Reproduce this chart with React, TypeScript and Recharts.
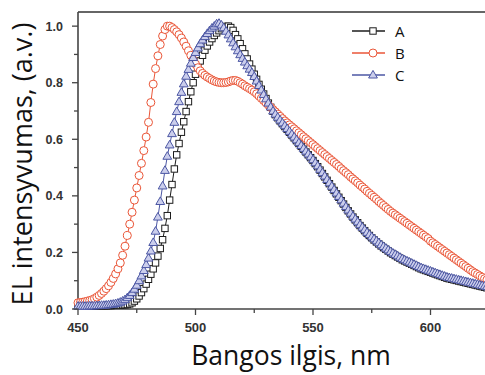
import React from 'react';
import { LineChart, Line, XAxis, YAxis, ReferenceLine, Legend } from 'recharts';

const wavelengths = [
  450, 451, 452, 453, 454, 455, 456, 457, 458, 459,
  460, 461, 462, 463, 464, 465, 466, 467, 468, 469,
  470, 471, 472, 473, 474, 475, 476, 477, 478, 479,
  480, 481, 482, 483, 484, 485, 486, 487, 488, 489,
  490, 491, 492, 493, 494, 495, 496, 497, 498, 499,
  500, 501, 502, 503, 504, 505, 506, 507, 508, 509,
  510, 511, 512, 513, 514, 515, 516, 517, 518, 519,
  520, 521, 522, 523, 524, 525, 526, 527, 528, 529,
  530, 531, 532, 533, 534, 535, 536, 537, 538, 539,
  540, 541, 542, 543, 544, 545, 546, 547, 548, 549,
  550, 551, 552, 553, 554, 555, 556, 557, 558, 559,
  560, 561, 562, 563, 564, 565, 566, 567, 568, 569,
  570, 571, 572, 573, 574, 575, 576, 577, 578, 579,
  580, 581, 582, 583, 584, 585, 586, 587, 588, 589,
  590, 591, 592, 593, 594, 595, 596, 597, 598, 599,
  600, 601, 602, 603, 604, 605, 606, 607, 608, 609,
  610, 611, 612, 613, 614, 615, 616, 617, 618, 619,
  620, 621, 622, 623, 624, 625,
];

const seriesA = [
  0.010, 0.010, 0.010, 0.010, 0.010, 0.010, 0.010, 0.010, 0.010, 0.011,
  0.011, 0.011, 0.012, 0.012, 0.012, 0.013, 0.013, 0.014, 0.014, 0.015,
  0.015, 0.016, 0.018, 0.022, 0.028, 0.036, 0.046, 0.058, 0.072, 0.088,
  0.105, 0.123, 0.142, 0.163, 0.187, 0.214, 0.245, 0.285, 0.330, 0.385,
  0.440, 0.495, 0.545, 0.585, 0.625, 0.662, 0.698, 0.733, 0.768, 0.800,
  0.830, 0.855, 0.877, 0.897, 0.915, 0.930, 0.944, 0.956, 0.967, 0.976,
  0.984, 0.991, 0.996, 0.999, 1.000, 0.995, 0.985, 0.970, 0.955, 0.938,
  0.920, 0.902, 0.884, 0.866, 0.848, 0.830, 0.812, 0.794, 0.777, 0.760,
  0.744, 0.728, 0.713, 0.699, 0.687, 0.676, 0.665, 0.655, 0.645, 0.635,
  0.625, 0.615, 0.605, 0.595, 0.585, 0.575, 0.565, 0.555, 0.545, 0.535,
  0.525, 0.514, 0.503, 0.491, 0.479, 0.467, 0.455, 0.443, 0.431, 0.419,
  0.407, 0.395, 0.383, 0.371, 0.359, 0.347, 0.336, 0.325, 0.315, 0.305,
  0.295, 0.286, 0.277, 0.268, 0.260, 0.252, 0.244, 0.237, 0.230, 0.223,
  0.217, 0.211, 0.205, 0.199, 0.194, 0.189, 0.184, 0.179, 0.174, 0.170,
  0.166, 0.162, 0.158, 0.154, 0.150, 0.146, 0.142, 0.139, 0.136, 0.133,
  0.130, 0.127, 0.124, 0.121, 0.118, 0.115, 0.112, 0.109, 0.107, 0.105,
  0.103, 0.101, 0.099, 0.097, 0.095, 0.093, 0.091, 0.089, 0.087, 0.085,
  0.083, 0.081, 0.079, 0.077, 0.075, 0.073,
];

const seriesB = [
  0.022, 0.023, 0.024, 0.026, 0.028, 0.030, 0.033, 0.037, 0.042, 0.048,
  0.055, 0.063, 0.072, 0.082, 0.094, 0.108, 0.124, 0.142, 0.163, 0.190,
  0.222, 0.260, 0.300, 0.342, 0.385, 0.428, 0.472, 0.515, 0.560, 0.608,
  0.660, 0.730, 0.795, 0.850, 0.895, 0.935, 0.965, 0.988, 1.000, 1.000,
  0.995, 0.988, 0.980, 0.970, 0.958, 0.944, 0.929, 0.913, 0.897, 0.881,
  0.866, 0.853, 0.842, 0.833, 0.826, 0.820, 0.815, 0.810, 0.806, 0.803,
  0.801, 0.800, 0.800, 0.801, 0.803, 0.806, 0.808, 0.808, 0.805, 0.800,
  0.795, 0.789, 0.784, 0.779, 0.774, 0.768, 0.761, 0.753, 0.745, 0.737,
  0.729, 0.721, 0.713, 0.705, 0.697, 0.689, 0.681, 0.673, 0.665, 0.658,
  0.651, 0.644, 0.637, 0.630, 0.623, 0.616, 0.609, 0.602, 0.595, 0.588,
  0.581, 0.574, 0.567, 0.560, 0.553, 0.546, 0.539, 0.532, 0.525, 0.518,
  0.511, 0.504, 0.496, 0.489, 0.482, 0.475, 0.467, 0.460, 0.453, 0.446,
  0.438, 0.431, 0.424, 0.416, 0.409, 0.402, 0.395, 0.388, 0.380, 0.373,
  0.366, 0.359, 0.352, 0.345, 0.339, 0.333, 0.327, 0.321, 0.315, 0.309,
  0.303, 0.297, 0.291, 0.285, 0.279, 0.273, 0.267, 0.261, 0.255, 0.249,
  0.240, 0.234, 0.228, 0.222, 0.216, 0.210, 0.204, 0.198, 0.192, 0.186,
  0.180, 0.174, 0.168, 0.162, 0.156, 0.150, 0.144, 0.138, 0.132, 0.127,
  0.122, 0.117, 0.112, 0.107, 0.103, 0.099,
];

const seriesC = [
  0.010, 0.010, 0.010, 0.010, 0.010, 0.011, 0.011, 0.011, 0.012, 0.012,
  0.013, 0.013, 0.014, 0.015, 0.016, 0.017, 0.019, 0.021, 0.024, 0.028,
  0.033, 0.040, 0.048, 0.058, 0.070, 0.084, 0.100, 0.117, 0.136, 0.157,
  0.180, 0.205, 0.235, 0.275, 0.325, 0.380, 0.435, 0.490, 0.540, 0.580,
  0.620, 0.660, 0.698, 0.733, 0.766, 0.796, 0.823, 0.847, 0.869, 0.889,
  0.907, 0.923, 0.938, 0.951, 0.963, 0.974, 0.984, 0.993, 1.000, 1.008,
  1.010, 1.004, 0.994, 0.982, 0.969, 0.955, 0.941, 0.927, 0.913, 0.899,
  0.886, 0.873, 0.860, 0.848, 0.836, 0.822, 0.806, 0.790, 0.774, 0.758,
  0.743, 0.728, 0.714, 0.700, 0.689, 0.678, 0.668, 0.658, 0.648, 0.638,
  0.628, 0.618, 0.608, 0.598, 0.588, 0.578, 0.568, 0.558, 0.548, 0.538,
  0.528, 0.517, 0.506, 0.494, 0.482, 0.470, 0.458, 0.446, 0.434, 0.422,
  0.410, 0.398, 0.386, 0.374, 0.362, 0.350, 0.339, 0.328, 0.318, 0.308,
  0.298, 0.289, 0.280, 0.271, 0.263, 0.255, 0.248, 0.241, 0.234, 0.227,
  0.221, 0.215, 0.209, 0.203, 0.198, 0.193, 0.188, 0.183, 0.178, 0.174,
  0.170, 0.166, 0.162, 0.158, 0.154, 0.150, 0.146, 0.143, 0.140, 0.137,
  0.134, 0.131, 0.128, 0.125, 0.122, 0.119, 0.116, 0.113, 0.111, 0.109,
  0.107, 0.105, 0.103, 0.101, 0.099, 0.097, 0.095, 0.093, 0.091, 0.089,
  0.087, 0.085, 0.083, 0.081, 0.079, 0.077,
];

const seriesNames = ['A', 'B', 'C'];
const xTicks = [450, 475, 500, 525, 550, 575, 600, 625];
const yTicks = [0, 0.1, 0.2, 0.3, 0.4, 0.5, 0.6, 0.7, 0.8, 0.9, 1.0];
const xLabel = 'Bangos ilgis, nm';
const yLabel = 'EL intensyvumas, (a.v.)';

const data = wavelengths.map((w, i) => ({
  w,
  A: seriesA[i],
  B: seriesB[i],
  C: seriesC[i],
}));

const STYLE: Record<string, { stroke: string; fill: string }> = {
  A: { stroke: '#1c1c1c', fill: '#ffffff' },
  B: { stroke: '#EA5638', fill: '#ffffff' },
  C: { stroke: '#4C57A4', fill: '#CBCEEC' },
};

function Marker({ kind, cx, cy }: { kind: string; cx: number; cy: number }) {
  const s = STYLE[kind];
  if (cx == null || cy == null || isNaN(cx) || isNaN(cy)) return null;
  if (kind === 'A') {
    return <rect x={cx - 3.2} y={cy - 3.2} width={6.4} height={6.4} fill={s.fill} stroke={s.stroke} strokeWidth={1} />;
  }
  if (kind === 'B') {
    return <circle cx={cx} cy={cy} r={4} fill={s.fill} stroke={s.stroke} strokeWidth={1} />;
  }
  return (
    <polygon
      points={`${cx},${cy - 4.6} ${cx + 4.4},${cy + 3} ${cx - 4.4},${cy + 3}`}
      fill={s.fill}
      stroke={s.stroke}
      strokeWidth={1}
    />
  );
}

const TICK_FONT = '"Liberation Sans", Arial, Helvetica, sans-serif';
const TITLE_FONT = '"Open Sans", "Noto Sans", sans-serif';

const XTick = (props: any) => {
  const { x, y, payload } = props;
  const major = payload.value % 50 === 0;
  return (
    <g>
      <line x1={x} y1={y} x2={x} y2={y + (major ? 6 : 4)} stroke="#444" strokeWidth={1.3} />
      {major && (
        <text x={x} y={y + 22.5} textAnchor="middle" fontFamily={TICK_FONT} fontWeight="bold" fontSize={13} fill="#333">
          {payload.value}
        </text>
      )}
    </g>
  );
};

const YTick = (props: any) => {
  const { x, y, payload } = props;
  const major = Math.round(payload.value * 10) % 2 === 0;
  return (
    <g>
      <line x1={x - (major ? 6 : 4)} y1={y} x2={x} y2={y} stroke="#444" strokeWidth={1.3} />
      {major && (
        <text x={x - 15} y={y + 4.6} textAnchor="end" fontFamily={TICK_FONT} fontWeight="bold" fontSize={12.5} fill="#333">
          {payload.value.toFixed(1)}
        </text>
      )}
    </g>
  );
};

const LegendContent = (props: any) => {
  const payload = props.payload || [];
  return (
    <svg width={90} height={70} style={{ display: 'block' }}>
      {payload.map((e: any, i: number) => {
        const key = String(e.dataKey);
        const cy = 11 + i * 22;
        return (
          <g key={key}>
            <line x1={7} y1={cy} x2={40} y2={cy} stroke={STYLE[key].stroke} strokeWidth={1.3} />
            <Marker kind={key} cx={28} cy={cy} />
            <text x={50} y={cy + 5.5} fontFamily={TITLE_FONT} fontSize={15} fill="#111">
              {e.value}
            </text>
          </g>
        );
      })}
    </svg>
  );
};

export default function App() {
  return (
    <div style={{ position: 'absolute', left: 0, top: 0, width: 485, height: 375, overflow: 'hidden', background: '#fff' }}>
      <LineChart width={513} height={375} data={data} margin={{ top: 12, right: 12, bottom: 36, left: 18 }}>
        <XAxis
          dataKey="w"
          type="number"
          domain={[450, 630]}
          ticks={xTicks}
          interval={0}
          tickSize={0}
          tickMargin={0}
          tickLine={false}
          tick={<XTick />}
          axisLine={{ stroke: '#444', strokeWidth: 1.6 }}
          height={30}
          label={{
            content: () => (
              <text x={291} y={365} textAnchor="middle" fontFamily={TITLE_FONT} fontSize={26.5} fill="#111">
                {xLabel}
              </text>
            ),
          }}
        />
        <YAxis
          type="number"
          domain={[0, 1.05]}
          ticks={yTicks}
          interval={0}
          tickSize={0}
          tickMargin={0}
          tickLine={false}
          tick={<YTick />}
          axisLine={{ stroke: '#444', strokeWidth: 1.6 }}
          width={60}
          label={{
            content: () => (
              <text
                x={32}
                y={164}
                transform="rotate(-90, 32, 164)"
                textAnchor="middle"
                fontFamily={TITLE_FONT}
                fontSize={27}
                fill="#111"
              >
                {yLabel}
              </text>
            ),
          }}
        />
        <ReferenceLine y={1.05} stroke="#666" strokeWidth={2} />
        {seriesNames.map((name) => (
          <Line
            key={name}
            dataKey={name}
            name={name}
            type="linear"
            stroke={STYLE[name].stroke}
            strokeWidth={1}
            isAnimationActive={false}
            activeDot={false}
            dot={(p: any) => <Marker key={`${name}-${p.index}`} kind={name} cx={p.cx} cy={p.cy} />}
          />
        ))}
        <Legend
          layout="vertical"
          align="center"
          verticalAlign="middle"
          content={<LegendContent />}
          wrapperStyle={{ left: 345, top: 20, width: 90, height: 70 }}
        />
      </LineChart>
    </div>
  );
}
